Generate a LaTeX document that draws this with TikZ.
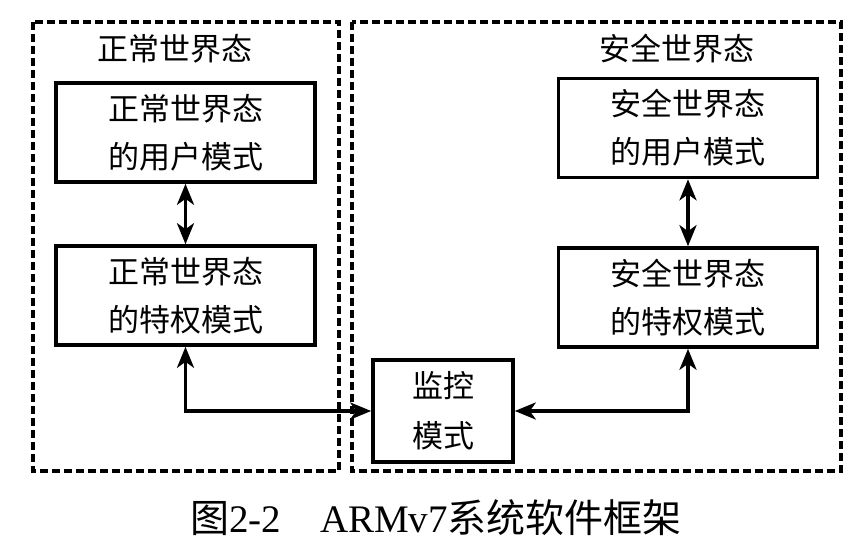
\documentclass[tikz,border=0pt]{standalone}
\usepackage{fontspec}
\setmainfont{Liberation Serif}
\newfontfamily\cjk{Noto Sans CJK SC}
\usetikzlibrary{arrows.meta}

\begin{document}
\begin{tikzpicture}[x=0.5pt, y=-0.5pt,
        mode/.style = {draw, line width=1.8pt, inner sep=0pt, minimum width=129.5pt, minimum height=49.5pt, align=center, font=\cjk\fontsize{15.5}{24}\selectfont},
        world/.style = {dash pattern=on 4pt off 2pt, line width=1.8pt},
        title/.style = {font=\cjk\fontsize{15.5}{18}\selectfont},
        link/.style = {line width=1.8pt, {Stealth[length=10.5pt,width=8.5pt,inset=3pt]}-{Stealth[length=10.5pt,width=8.5pt,inset=3pt]}}]
        \useasboundingbox (0,0) rectangle (863,550);
        % the two worlds
        \draw[world] (33,22) rectangle (339,471);
        \draw[world] (352,22) rectangle (841,471);
        \node[title] (nt) at (175,49) {正常世界态};
        \node[title] (st) at (677,49) {安全世界态};
        % modes
        \node[mode] (nu) at (185.5,132.5) {正常世界态\\的用户模式};
        \node[mode] (np) at (185.5,295.5) {正常世界态\\的特权模式};
        \node[mode] (su) at (688,128) {安全世界态\\的用户模式};
        \node[mode] (sp) at (688,297.5) {安全世界态\\的特权模式};
        \node[mode, minimum width=70pt, minimum height=51pt, font=\cjk\fontsize{15.5}{25}\selectfont] (mon) at (443,411) {监控\\模式};
        \draw[link] (nu) -- (np);
        \draw[link] (su) -- (sp);
        \draw[link] (np) |- (mon);
        \draw[link] (sp) |- (mon);
        % caption
        \node[font=\fontsize{19.5}{22}\selectfont] (cap) at (436,518) {{\cjk 图}2-2\hspace{1em}ARMv7{\cjk 系统软件框架}};
    \end{tikzpicture}
\end{document}
